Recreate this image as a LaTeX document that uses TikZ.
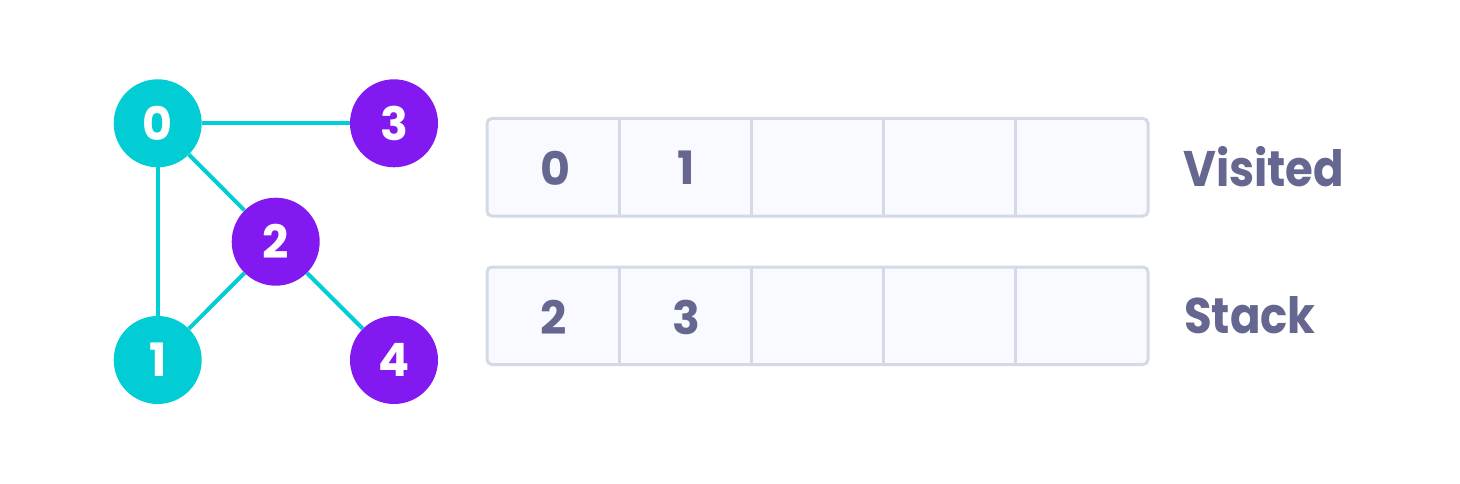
\documentclass[tikz,border=0pt]{standalone}
\usepackage{fontspec}
\setmainfont{Poppins}
\newfontfamily\lblfont[FakeStretch=0.9]{Poppins}
\definecolor{cy}{HTML}{03CDD4}
\definecolor{pu}{HTML}{8119F0}
\definecolor{tx}{HTML}{666791}
\definecolor{bd}{HTML}{D3DAE5}
\definecolor{cf}{HTML}{F8FAFF}
\tikzset{
  vert/.style={circle,minimum size=88pt,inner sep=0pt,text=white,font=\fontsize{46}{50}\selectfont\bfseries},
  vis/.style={vert,fill=cy},
  unv/.style={vert,fill=pu},
  edge/.style={draw=cy,line width=4pt},
  rowbox/.style={draw=bd,fill=cf,line width=3pt,rounded corners=5pt},
  divider/.style={draw=bd,line width=3pt},
  celltxt/.style={text=tx,font=\fontsize{46}{50}\selectfont\bfseries,inner sep=0pt},
  lbl/.style={text=tx,font=\lblfont\fontsize{50}{54}\selectfont\bfseries,inner sep=0pt,anchor=base west}
}
\begin{document}
\begin{tikzpicture}[x=1pt,y=-1pt]
\useasboundingbox (0,0) rectangle (1460,484);
\node[vis] (n0) at (157.7,123.3) {0};
\node[unv] (n3) at (394,123.3) {3};
\node[unv] (n2) at (275.7,241.7) {2};
\node[vis] (n1) at (157.7,360) {1};
\node[unv] (n4) at (394,360) {4};
\draw[edge] (n0) -- (n3);
\draw[edge] (n0) -- (n2);
\draw[edge] (n0) -- (n1);
\draw[edge] (n2) -- (n1);
\draw[edge] (n2) -- (n4);
% Visited row
\draw[rowbox] (487,118.5) rectangle (1148,216);
\foreach \x in {619.5,751.5,883.5,1015.5} \draw[divider] (\x,118.5) -- (\x,216);
\node[celltxt] (v0) at (555,168) {0};
\node[celltxt] (v1) at (686,168) {1};
\node[lbl] (lv) at (1183,186) {Visited};
% Stack row
\draw[rowbox] (487,267) rectangle (1148,364.5);
\foreach \x in {619.5,751.5,883.5,1015.5} \draw[divider] (\x,267) -- (\x,364.5);
\node[celltxt] (s0) at (554,317.5) {2};
\node[celltxt] (s1) at (686.5,317.5) {3};
\node[lbl] (ls) at (1184,333) {Stack};
\end{tikzpicture}
\end{document}
